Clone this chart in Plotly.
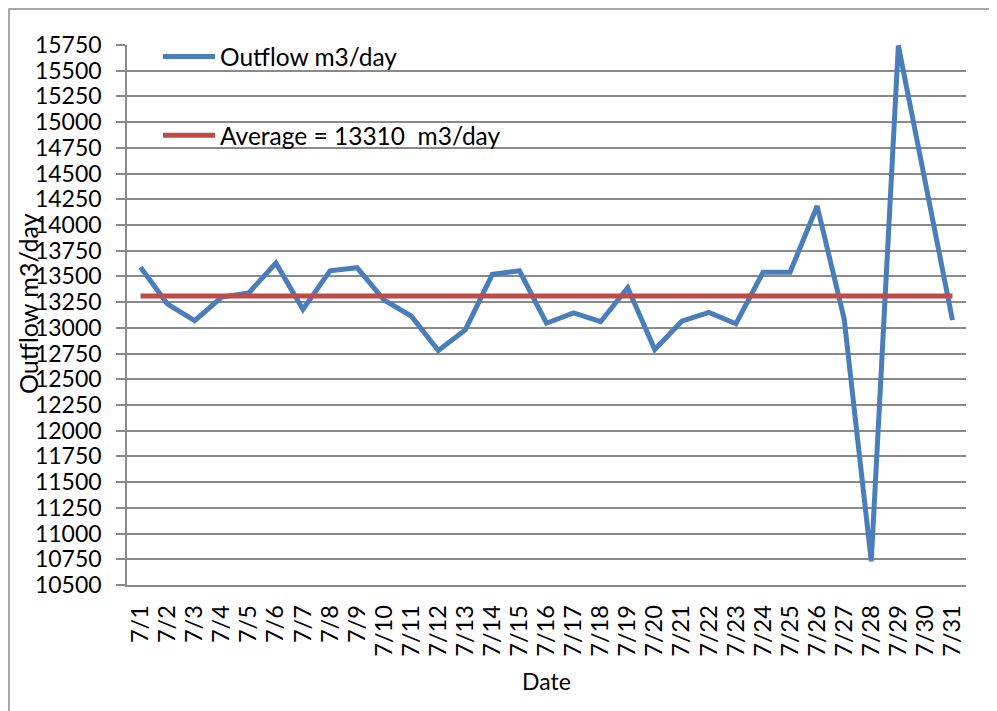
import plotly.graph_objects as go

dates = [f"7/{d}" for d in range(1, 32)]
outflow = [13590, 13230, 13070, 13300, 13340, 13630, 13180, 13555, 13585, 13270,
           13115, 12780, 12980, 13520, 13555, 13045, 13145, 13060, 13390, 12790,
           13065, 13150, 13040, 13540, 13540, 14185, 13085, 10730, 15745, 14380,
           13075]
average_value = 13310
average = [average_value] * len(dates)
y_ticks = list(range(10500, 15751, 250))

FONT = "Lato"
GRID = "#8a8a8a"

fig = go.Figure()
fig.add_trace(go.Scatter(x=dates, y=outflow, mode="lines", name="Outflow m3/day",
                         line=dict(color="#4a7ebb", width=5), legendgroup="a"))
fig.add_trace(go.Scatter(x=dates, y=average, mode="lines", name="Average = 13310  m3/day",
                         line=dict(color="#be4b48", width=5), legendgroup="b"))

# page offset from the default body margin
OFF = 8
L, R, T, B = 127, 966, 45, 585          # target plot area in page pixels
W, H = 997 - OFF, 711 - OFF

def px(x):
    return (x - L) / (R - L)

def py(y):
    return (B - y) / (B - T)

fig.update_layout(
    width=W, height=H,
    margin=dict(l=L - OFF, r=W - (R - OFF), t=T - OFF, b=H - (B - OFF), pad=0),
    paper_bgcolor="white", plot_bgcolor="white",
    font=dict(family=FONT, size=23, color="black"),
    showlegend=True,
    legend=dict(x=px(158), y=py(34), xanchor="left", yanchor="top",
                bgcolor="rgba(0,0,0,0)", font=dict(family=FONT, size=24.5, color="black"),
                itemwidth=52, tracegroupgap=44, traceorder="grouped"),
    xaxis=dict(type="category", showgrid=False, showline=True, linecolor=GRID, linewidth=1.5,
               ticks="", tickangle=-90, ticklabelstandoff=9,
               tickmode="array", tickvals=dates, ticktext=dates,
               tickfont=dict(family=FONT, size=23.5), range=[-0.5, 30.5],
               title=dict(text="Date", font=dict(family=FONT, size=23), standoff=18)),
    yaxis=dict(range=[10500, 15750], tickvals=y_ticks, ticktext=[str(v) for v in y_ticks],
               showgrid=True, gridcolor=GRID, gridwidth=1.5, showline=True, linecolor=GRID,
               linewidth=1.5, ticks="outside", ticklen=9, tickcolor=GRID, tickwidth=1.5,
               ticklabelstandoff=10, tickfont=dict(family=FONT, size=23), zeroline=False),
    shapes=[dict(type="rect", xref="paper", yref="paper",
                 x0=px(9), x1=px(1002), y0=py(716), y1=py(9),
                 line=dict(color="#8a8a8a", width=1.5), fillcolor="rgba(0,0,0,0)", layer="below")],
    annotations=[dict(text="Outflow m3/day", xref="paper", yref="paper",
                      x=px(28), y=py(304), xanchor="center", yanchor="middle",
                      textangle=-90, showarrow=False, font=dict(family=FONT, size=25, color="black"))],
)

fig.write_html("out.html")
